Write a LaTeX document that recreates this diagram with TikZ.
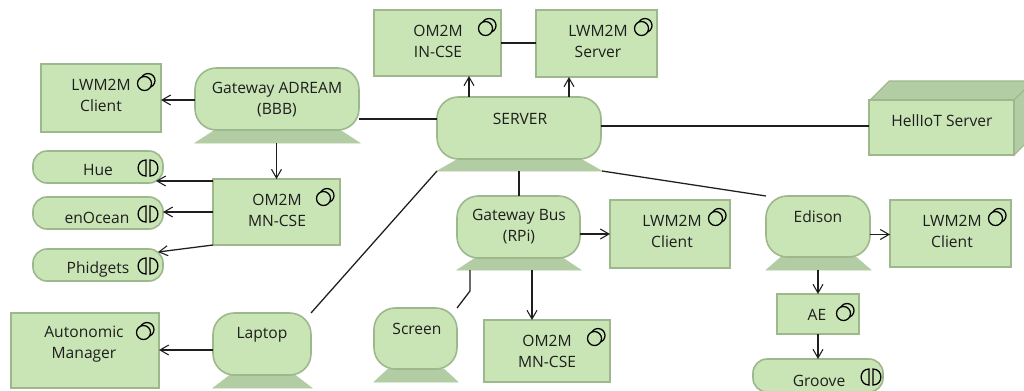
\documentclass[tikz,border=0pt]{standalone}
\usepackage{fontspec}
\setmainfont{Open Sans}
\usetikzlibrary{arrows.meta}
\definecolor{nfill}{HTML}{C9E5B6}
\definecolor{nline}{HTML}{9DB88D}
\definecolor{nbase}{HTML}{B2CDA4}
\definecolor{ink}{HTML}{1E1E1E}
\tikzset{
  x=0.75pt,y=-0.75pt,
  shapebox/.style={draw=nline,fill=nfill,line width=1.2pt,inner sep=0pt,outer sep=0pt},
  devicebody/.style={shapebox,rounded corners=16pt},
  pillbox/.style={shapebox,rounded corners=10.5pt},
  devicebase/.style={fill=nbase,draw=nbase,line width=0.4pt},
  lbl/.style={inner sep=0pt,outer sep=0pt,align=center,text=ink,font=\fontsize{11.7pt}{15.75pt}\selectfont},
  conn/.style={draw=ink,line width=0.95pt},
  arr/.style={conn,-{Straight Barb[length=6.5pt,width=7.5pt,line width=0.8pt]}},
  iconline/.style={draw=black,line width=0.95pt}
}
\newcommand{\rectn}[6]{\node[#2,minimum width={(#5-#3)*0.75pt},minimum height={(#6-#4)*0.75pt}] (#1) at ({(#3+#5)/2},{(#4+#6)/2}) {};}
% name x1 y1 x2 y2 ybottom inset
\newcommand{\devn}[7]{%
  \coordinate (#1bl) at (#2,#6);
  \coordinate (#1br) at (#4+1,#6);
  \coordinate (#1bs) at ({(#2+#4)/2},#6);
  \path[devicebase] (#1bl) -- (#2+#7,#5) -- (#4+1-#7,#5) -- (#1br) -- cycle;
  \rectn{#1}{devicebody}{#2}{#3}{#4}{#5}}
\newcommand{\txt}[4]{\node[lbl] (#1) at (#2,#3+1.5) {#4};}
\newcommand{\compi}[2]{%
  \draw[iconline,fill=nfill] (#1+3,#2-1.5) circle [radius=7];
  \draw[iconline,fill=nfill] (#1-0.5,#2+1.5) circle [radius=7];}
\newcommand{\ifacei}[2]{%
  \draw[iconline] (#1-2,#2-8) .. controls (#1-12.5,#2-8) and (#1-12.5,#2+8) .. (#1-2,#2+8) -- cycle;
  \draw[iconline] (#1+2,#2-8) .. controls (#1+12.5,#2-8) and (#1+12.5,#2+8) .. (#1+2,#2+8) -- cycle;}
\begin{document}
\begin{tikzpicture}
\useasboundingbox (0,0) rectangle (1024,390);
\clip (0,0) rectangle (1024,390);
\fill[white] (0,0) rectangle (1024,390);

% HellIoT server
\path[fill=nbase,draw=nline,line width=0.8pt] (870,100) -- (889,81) -- (1033,81) -- (1014,100) -- cycle;
\path[fill=nbase,draw=nline,line width=0.8pt] (1014,100) -- (1033,81) -- (1033,136) -- (1014,155) -- cycle;
\rectn{hell}{shapebox}{869}{100}{1014}{155}
\txt{hellt}{942}{119}{HellIoT Server}

% Boxes
\rectn{lwa}{shapebox}{41}{64}{161}{132}
\txt{lwat}{101}{93.5}{LWM2M\\Client}
\compi{145}{82}
\rectn{omm}{shapebox}{213}{179}{340}{245}
\txt{ommt}{277}{208.5}{OM2M\\MN-CSE}
\compi{324}{197}
\rectn{omi}{shapebox}{374}{10}{501}{76}
\txt{omit}{438}{39.5}{OM2M\\IN-CSE}
\compi{486}{27}
\rectn{lws}{shapebox}{536}{10}{657}{77}
\txt{lwst}{598}{39.5}{LWM2M\\Server}
\compi{642}{27}
\rectn{lwb}{shapebox}{610}{200}{730}{268}
\txt{lwbt}{672}{229.5}{LWM2M\\Client}
\compi{716}{217}
\rectn{lwe}{shapebox}{890}{200}{1011}{267}
\txt{lwet}{952}{229.5}{LWM2M\\Client}
\compi{996}{217}
\rectn{omb}{shapebox}{484}{320}{610}{382}
\txt{ombt}{547}{349.5}{OM2M\\MN-CSE}
\compi{595}{337}
\rectn{auto}{shapebox}{11}{313}{159}{388}
\txt{autot}{84}{343}{Autonomic\\Manager}
\compi{144}{331}
\rectn{ae}{shapebox}{777}{294}{859}{334}
\txt{aet}{817}{313}{AE}
\compi{844}{312}

% Interfaces
\rectn{hue}{pillbox}{33}{151}{163}{183}
\txt{huet}{98}{169}{Hue}
\ifacei{148}{168}
\rectn{eno}{pillbox}{33}{197}{163}{229}
\txt{enot}{97}{216}{enOcean}
\ifacei{148}{214}
\rectn{phi}{pillbox}{33}{249}{163}{281}
\txt{phit}{98}{268}{Phidgets}
\ifacei{148}{266}
\rectn{gro}{pillbox}{753}{359}{883}{392}
\txt{grot}{819}{379}{Groove}
\ifacei{871}{377}

% Devices
\devn{gwa}{195}{68}{359}{130}{143}{20}
\txt{gwat}{277}{98}{Gateway ADREAM\\(BBB)}
\devn{srv}{437}{97}{601}{159}{171}{21}
\txt{srvt}{520}{117}{SERVER}
\devn{bus}{457}{196}{580}{258}{270}{18}
\txt{bust}{519}{225.5}{Gateway Bus\\(RPi)}
\devn{edi}{766}{196}{870}{257}{270}{15}
\txt{edit}{818}{215}{Edison}
\devn{scr}{374}{308}{457}{369}{382}{14}
\txt{scrt}{417}{327}{Screen}
\devn{lap}{213}{313}{311}{375}{388}{17}
\txt{lapt}{262}{333}{Laptop}

% Connectors
\draw[arr] ([shift={(0,1)}]gwa.west) -- ([shift={(0,1)}]gwa.west -| lwa.east);
\draw[arr] (gwabs -| omm.north) -- (omm.north);
\draw[arr] ([shift={(0,-31)}]omm.west) -- ([shift={(-7,-31)}]omm.west -| hue.east);
\draw[arr] (omm.west) -- (omm.west -| eno.east);
\draw[arr] (omm.south west) -- ([shift={(-5,-13)}]phi.east);
\draw[conn] ([shift={(0,20)}]gwa.east) -- ([shift={(0,20)}]gwa.east -| srv.west);
\draw[arr] ([shift={(-50,0)}]srv.north) -- ([shift={(-50,0)}]srv.north |- omi.south);
\draw[conn] (omi.east) -- (omi.east -| lws.west);
\draw[arr] ([shift={(50,0)}]srv.north) -- ([shift={(50,0)}]srv.north |- lws.south);
\draw[conn] ([shift={(0,-2)}]srv.east) -- ([shift={(0,-2)}]srv.east -| hell.west);
\draw[conn] (srvbs) -- (srvbs |- bus.north);
\draw[conn] (srvbr) -- (edi.north west);
\draw[conn] (srvbl) -- (lap.north east);
\draw[arr] ([shift={(0,7)}]bus.east) -- ([shift={(0,7)}]bus.east -| lwb.west);
\draw[arr] ([shift={(0,8)}]edi.east) -- ([shift={(0,8)}]edi.east -| lwe.west);
\draw[arr] ([shift={(13.5,0)}]busbs) -- ([shift={(13.5,0)}]busbs |- omb.north);
\draw[conn] ([shift={(-48.5,0)}]busbs) -- ++(0,21) -- (scr.north east);
\draw[arr] (edibs) -- (edibs |- ae.north);
\draw[arr] (ae.south) -- (ae.south |- gro.north);
\draw[arr] ([shift={(0,6)}]lap.west) -- ([shift={(0,6)}]lap.west -| auto.east);
\end{tikzpicture}
\end{document}
